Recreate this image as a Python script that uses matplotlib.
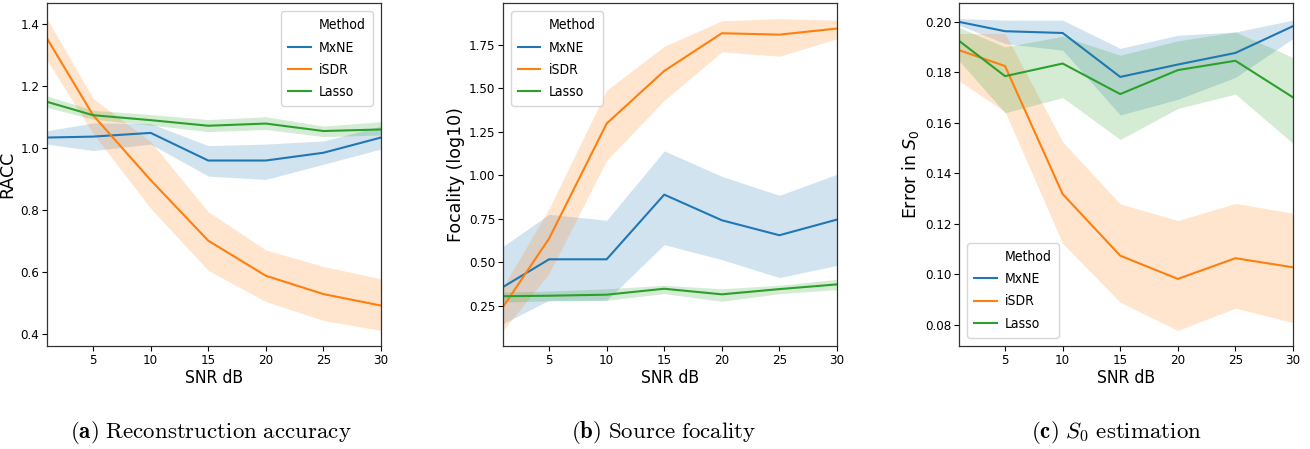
import numpy as np
import matplotlib; matplotlib.use("Agg")
import matplotlib.pyplot as plt
from matplotlib.lines import Line2D

snr = [1, 5, 10, 15, 20, 25, 30]
methods = ["MxNE", "iSDR", "Lasso"]
colors = {"MxNE": "#1f77b4", "iSDR": "#ff7f0e", "Lasso": "#2ca02c"}

# ---- (a) reconstruction accuracy: mean, lower, upper ----
racc_mxne = [1.033, 1.036, 1.048, 0.959, 0.959, 0.984, 1.033]
racc_mxne_lo = [1.012, 0.991, 1.012, 0.909, 0.898, 0.947, 0.996]
racc_mxne_hi = [1.055, 1.080, 1.078, 1.007, 1.012, 1.022, 1.070]
racc_isdr = [1.352, 1.105, 0.896, 0.701, 0.588, 0.529, 0.492]
racc_isdr_lo = [1.282, 1.046, 0.805, 0.605, 0.505, 0.444, 0.412]
racc_isdr_hi = [1.416, 1.159, 1.020, 0.794, 0.671, 0.618, 0.578]
racc_lasso = [1.148, 1.105, 1.089, 1.071, 1.078, 1.054, 1.059]
racc_lasso_lo = [1.130, 1.092, 1.073, 1.052, 1.059, 1.036, 1.041]
racc_lasso_hi = [1.167, 1.121, 1.107, 1.091, 1.100, 1.070, 1.084]

# ---- (b) focality (log10) ----
foc_mxne = [0.359, 0.518, 0.518, 0.889, 0.742, 0.656, 0.746]
foc_mxne_lo = [0.149, 0.283, 0.283, 0.602, 0.516, 0.413, 0.483]
foc_mxne_hi = [0.592, 0.776, 0.742, 1.140, 0.994, 0.885, 1.006]
foc_isdr = [0.244, 0.637, 1.297, 1.599, 1.815, 1.807, 1.842]
foc_isdr_lo = [0.110, 0.436, 1.086, 1.430, 1.708, 1.683, 1.784]
foc_isdr_hi = [0.359, 0.809, 1.488, 1.740, 1.886, 1.899, 1.890]
foc_lasso = [0.306, 0.309, 0.315, 0.349, 0.317, 0.347, 0.374]
foc_lasso_lo = [0.273, 0.279, 0.283, 0.321, 0.277, 0.321, 0.344]
foc_lasso_hi = [0.330, 0.336, 0.349, 0.369, 0.349, 0.369, 0.403]

# ---- (c) error in S0 ----
s0_mxne = [0.2000, 0.1963, 0.1956, 0.1782, 0.1831, 0.1877, 0.1983]
s0_mxne_lo = [0.1987, 0.1914, 0.1888, 0.1631, 0.1693, 0.1780, 0.1934]
s0_mxne_hi = [0.2013, 0.2007, 0.2007, 0.1895, 0.1947, 0.1960, 0.2007]
s0_isdr = [0.1888, 0.1825, 0.1318, 0.1074, 0.0982, 0.1064, 0.1028]
s0_isdr_lo = [0.1767, 0.1644, 0.1123, 0.0889, 0.0778, 0.0866, 0.0809]
s0_isdr_hi = [0.1954, 0.1954, 0.1525, 0.1279, 0.1213, 0.1281, 0.1242]
s0_lasso = [0.1925, 0.1785, 0.1835, 0.1714, 0.1809, 0.1846, 0.1701]
s0_lasso_lo = [0.1846, 0.1640, 0.1700, 0.1534, 0.1657, 0.1714, 0.1519]
s0_lasso_hi = [0.1978, 0.1901, 0.1943, 0.1868, 0.1925, 0.1960, 0.1859]

panels = [
    ("RACC", r"$\mathbf{(a)}\ \mathrm{Reconstruction\ accuracy}$", "upper right",
     {"MxNE": (racc_mxne, racc_mxne_lo, racc_mxne_hi), "iSDR": (racc_isdr, racc_isdr_lo, racc_isdr_hi),
      "Lasso": (racc_lasso, racc_lasso_lo, racc_lasso_hi)}, [0.4, 0.6, 0.8, 1.0, 1.2, 1.4], "%.1f"),
    ("Focality (log10)", r"$\mathbf{(b)}\ \mathrm{Source\ focality}$", "upper left",
     {"MxNE": (foc_mxne, foc_mxne_lo, foc_mxne_hi), "iSDR": (foc_isdr, foc_isdr_lo, foc_isdr_hi),
      "Lasso": (foc_lasso, foc_lasso_lo, foc_lasso_hi)}, [0.25, 0.5, 0.75, 1.0, 1.25, 1.5, 1.75], "%.2f"),
    (r"Error in $S_0$", r"$\mathbf{(c)}\ S_0\ \mathrm{estimation}$", "lower left",
     {"MxNE": (s0_mxne, s0_mxne_lo, s0_mxne_hi), "iSDR": (s0_isdr, s0_isdr_lo, s0_isdr_hi),
      "Lasso": (s0_lasso, s0_lasso_lo, s0_lasso_hi)}, [0.08, 0.10, 0.12, 0.14, 0.16, 0.18, 0.20], "%.2f"),
]

lefts = [47, 503, 959]; cap_x = [211, 664, 1116]
W, H = 1310, 449
fig = plt.figure(figsize=(W / 100, H / 100), dpi=100)

for i, (ylab, cap, loc, data, yt, fmt) in enumerate(panels):
    ax = fig.add_axes([lefts[i] / W, 1 - 346 / H, 334 / W, 343 / H])
    for m in methods:
        y, lo, hi = data[m]
        ax.fill_between(snr, lo, hi, color=colors[m], alpha=0.2, lw=0)
        ax.plot(snr, y, color=colors[m], lw=1.5)
    ax.set_xlim(1, 30)
    ax.margins(y=0.05)
    ax.set_xticks([5, 10, 15, 20, 25, 30])
    ax.set_yticks(yt)
    ax.set_yticklabels([fmt % v for v in yt])
    ax.tick_params(length=3.5, width=0.8, pad=2)
    for lb in ax.get_xticklabels() + ax.get_yticklabels():
        lb.set_fontstretch("condensed"); lb.set_fontsize(9.5)
    ax.set_xlabel("SNR dB", fontstretch="condensed", fontsize=12.5, labelpad=2)
    ax.set_ylabel(ylab, fontsize=12.5, labelpad=3)
    for s in ax.spines.values():
        s.set_color("#333333"); s.set_linewidth(0.9)
    hs = [Line2D([], [], color="none")] + [Line2D([], [], color=colors[m], lw=1.5) for m in methods]
    ax.legend(hs, ["Method"] + methods, loc=loc, prop={"stretch": "condensed", "size": 10},
              handlelength=1.6, handletextpad=0.6, borderpad=0.5, labelspacing=0.6,
              borderaxespad=0.6, edgecolor="0.8")
    fig.text(cap_x[i] / W, 1 - 432 / H, cap, ha="center", va="center", fontsize=16.5, math_fontfamily="cm")

fig.savefig("out.png", dpi=100)
